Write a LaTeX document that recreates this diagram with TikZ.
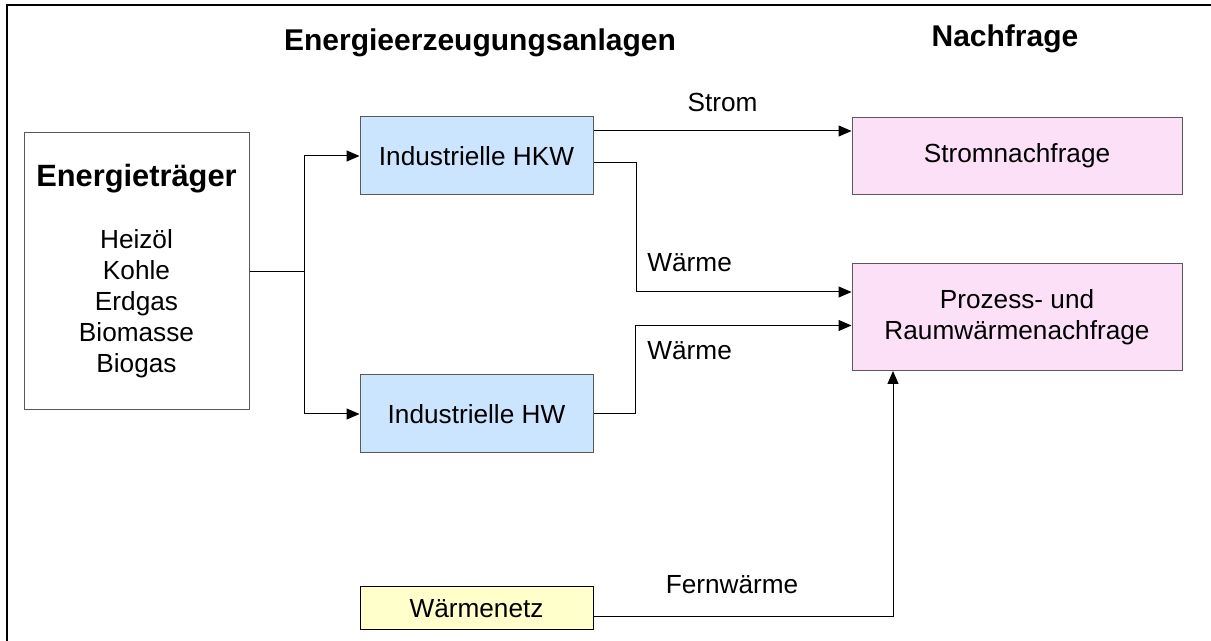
\documentclass[tikz,border=0pt]{standalone}
\usepackage{fontspec}
\setmainfont{Liberation Sans}
\usepackage{xcolor}
\usetikzlibrary{arrows.meta, positioning}

\definecolor{plantblue}{RGB}{204,229,255}
\definecolor{demandpink}{RGB}{252,224,248}
\definecolor{netyellow}{RGB}{255,255,204}

\begin{document}
\begin{tikzpicture}[
    x=0.5pt, y=-0.5pt,
    box/.style={rectangle, draw=black!65, line width=0.5pt, inner sep=0pt, align=center, font=\fontsize{13.1}{15.5}\selectfont},
    srcbox/.style={box, fill=white, minimum width=112.5pt, minimum height=138.5pt},
    plantbox/.style={box, fill=plantblue, minimum width=116.5pt, minimum height=39pt},
    demandbox/.style={box, fill=demandpink, minimum width=165pt},
    netbox/.style={box, draw=black, fill=netyellow, minimum width=116.5pt, minimum height=21.5pt},
    conn/.style={line width=0.5pt, black},
    arrow/.style={conn, -{Triangle[length=6.5pt, width=5.5pt]}},
    flowlabel/.style={font=\fontsize{13.1}{15.5}\selectfont, inner sep=0pt},
    heading/.style={font=\bfseries\fontsize{15}{18}\selectfont, inner sep=0pt},
]
\useasboundingbox (0,0) rectangle (1211,641);
\fill[white] (0,0) rectangle (1211,641);
\draw[line width=0.8pt] (7,5) rectangle (1240,680);

% Headings
\node[heading, anchor=base] (anlagen) at (480,51) {Energieerzeugungsanlagen};
\node[heading, anchor=base] (nachfrage) at (1005,47) {Nachfrage};

% Energietraeger
\node[srcbox] (etr) at (136.5,271.5) {{\bfseries\fontsize{15.4}{18}\selectfont Energieträger}\\[15.5pt]Heizöl\\Kohle\\Erdgas\\Biomasse\\Biogas};

% Anlagen
\node[plantbox] (hkw) at (476.5,156) {Industrielle HKW};
\node[plantbox, below=89.5pt of hkw] (hw) {Industrielle HW};
\node[netbox, below=66.5pt of hw] (netz) {Wärmenetz};

% Nachfrage
\node[demandbox, minimum height=38.5pt, right=129pt of hkw] (snf) {Stromnachfrage};
\node[demandbox, minimum height=53.5pt, below=34pt of snf] (pnf) {Prozess- und\\Raumwärmenachfrage};

% Arrows
\coordinate (fork) at ([xshift=27.5pt]etr.east);
\draw[conn] (etr.east) -- (fork);
\draw[arrow] (fork) |- (hkw.west);
\draw[arrow] (fork) |- (hw.west);
\draw[arrow] ([yshift=12.5pt]hkw.east) -- node[flowlabel, above=9.5pt] (strom) {Strom} ([yshift=12.5pt]snf.west);
\draw[arrow] ([yshift=-3.5pt]hkw.east) -- ++(21.5pt,0pt) |- ([yshift=12.5pt]pnf.west);
\draw[arrow] (hw.east) -- ++(21pt,0pt) |- ([yshift=-4.25pt]pnf.west);
\draw[arrow] ([yshift=-4.25pt]netz.east) -| ([xshift=-62pt]pnf.south);

% Labels
\node[flowlabel, anchor=base west] (waerme1) at (647,272) {Wärme};
\node[flowlabel, anchor=base west] (waerme2) at (647,360) {Wärme};
\node[flowlabel, anchor=base] (fernw) at (732,594) {Fernwärme};

\end{tikzpicture}
\end{document}
